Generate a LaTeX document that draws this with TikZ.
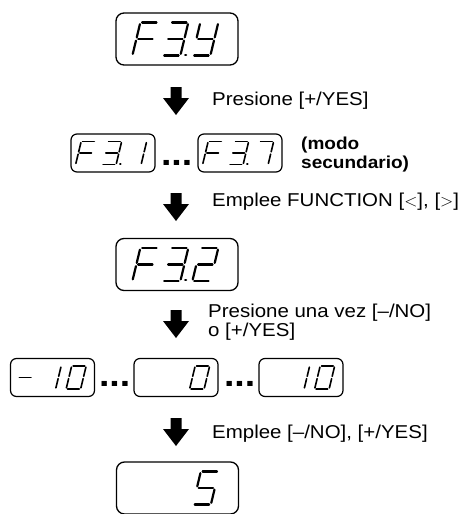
\documentclass[tikz,border=0pt]{standalone}
\usepackage{fontspec}
\setmainfont{Liberation Sans}[FakeStretch=1.1]

% one character of the segment display, placed from the box's west side
\newcommand{\lcdchar}[4]{%
  \begin{scope}[shift={(#1.west)},xshift=#2pt,#3]
    \coordinate (a1) at (.1,-1);  \coordinate (a2) at (.9,-1);
    \coordinate (b1) at (1,-.9);  \coordinate (b2) at (1,-.1);
    \coordinate (c1) at (1,.1);   \coordinate (c2) at (1,.9);
    \coordinate (d1) at (.1,1);   \coordinate (d2) at (.9,1);
    \coordinate (e1) at (0,.1);   \coordinate (e2) at (0,.9);
    \coordinate (f1) at (0,-.9);  \coordinate (f2) at (0,-.1);
    \coordinate (g1) at (.1,0);   \coordinate (g2) at (.9,0);
    \coordinate (p1) at (1.25,.95); \coordinate (p2) at (1.31,.95);
    \foreach \sg in {#4} {\draw[seg] (\sg1) -- (\sg2);}
  \end{scope}}

\tikzset{
  bigbox/.style={draw,rounded corners=8pt,line width=1.3pt,minimum width=122pt,minimum height=52pt,inner sep=0pt},
  smallbox/.style={draw,rounded corners=6pt,line width=1.2pt,minimum width=84pt,minimum height=38pt,inner sep=0pt},
  bigchar/.style={x=18pt,y=-16.5pt,xslant=.24,seg/.style={line width=2.2pt,line cap=round}},
  smallchar/.style={x=14.5pt,y=-11.5pt,xslant=.24,seg/.style={line width=1.6pt,line cap=round}},
  note/.style={anchor=base west,inner sep=0pt,align=left,font=\fontsize{18.6}{17.3}\selectfont},
  side/.style={anchor=base west,inner sep=0pt,align=left,font=\bfseries\fontsize{17.3}{18.7}\selectfont},
  dots/.style={anchor=base west,inner sep=0pt,font=\bfseries\fontsize{34}{34}\selectfont},
  downarrow/.pic={\fill (-5.5,0) -- (5.5,0) -- (5.5,11) -- (13,11) -- (0,28) -- (-13,11) -- (-5.5,11) -- cycle;}
}

\begin{document}
\begin{tikzpicture}[x=1pt,y=-1pt]
\useasboundingbox (0,0) rectangle (467,514);

% displays
\node[bigbox] (lcd1) at (177,39) {};
\node[smallbox] (lcd2) at (113,153) {};
\node[smallbox] (lcd3) at (240,153) {};
\node[bigbox] (lcd4) at (177,264.5) {};
\node[smallbox] (lcd5) at (52.5,377.5) {};
\node[smallbox] (lcd6) at (176,377.5) {};
\node[smallbox] (lcd7) at (301,377.5) {};
\node[bigbox] (lcd8) at (177.5,488) {};

\lcdchar{lcd1}{21}{bigchar}{a,f,e,g}
\lcdchar{lcd1}{51}{bigchar}{a,b,c,d,g,p}
\lcdchar{lcd1}{81}{bigchar}{b,c,d,f,g}

\lcdchar{lcd2}{8}{smallchar}{a,f,e,g}
\lcdchar{lcd2}{34}{smallchar}{a,b,c,d,g,p}
\lcdchar{lcd2}{59}{smallchar}{b,c}

\lcdchar{lcd3}{8}{smallchar}{a,f,e,g}
\lcdchar{lcd3}{34}{smallchar}{a,b,c,d,g,p}
\lcdchar{lcd3}{59}{smallchar}{a,b,c}

\lcdchar{lcd4}{21}{bigchar}{a,f,e,g}
\lcdchar{lcd4}{51}{bigchar}{a,b,c,d,g,p}
\lcdchar{lcd4}{81}{bigchar}{a,b,g,e,d}

\lcdchar{lcd5}{8}{smallchar}{g}
\lcdchar{lcd5}{34}{smallchar}{b,c}
\lcdchar{lcd5}{59}{smallchar}{a,b,c,d,e,f}

\lcdchar{lcd6}{59}{smallchar}{a,b,c,d,e,f}

\lcdchar{lcd7}{34}{smallchar}{b,c}
\lcdchar{lcd7}{59}{smallchar}{a,b,c,d,e,f}

\lcdchar{lcd8}{81}{bigchar}{a,f,g,c,d}

% dots between displays
\node[dots] (s1) at (160.8,165) {...};
\node[dots] (s2) at (98.8,386.5) {...};
\node[dots] (s3) at (223.8,386.5) {...};

% arrows and notes
\pic (ar1) at (176,87) {downarrow};
\pic (ar2) at (176,193) {downarrow};
\pic (ar3) at (176,310) {downarrow};
\pic (ar4) at (176,418) {downarrow};

\node[note] (t1) at (212,105) {Presione [+/YES]};
\node[side] (t2) at (301,168) {(modo\\secundario)};
\node[note] (t3) at (212,206) {Emplee FUNCTION [$<$], [$>$]};
\node[note] (t4) at (208,336) {Presione una vez [–/NO]\\o [+/YES]};
\node[note] (t5) at (212,438) {Emplee [–/NO], [+/YES]};
\end{tikzpicture}
\end{document}
